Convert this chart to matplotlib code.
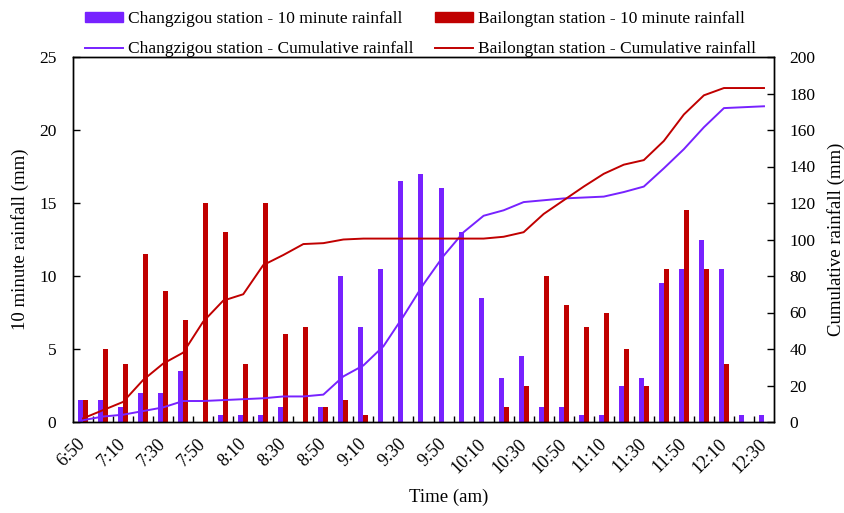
import matplotlib
matplotlib.use("Agg")
import matplotlib.pyplot as plt
from matplotlib.patches import Patch
from matplotlib.lines import Line2D
import numpy as np

plt.rcParams['font.family'] = ['Liberation Serif', 'DejaVu Serif']

times = ["6:50", "7:00", "7:10", "7:20", "7:30", "7:40", "7:50", "8:00", "8:10", "8:20",
         "8:30", "8:40", "8:50", "9:00", "9:10", "9:20", "9:30", "9:40", "9:50", "10:00",
         "10:10", "10:20", "10:30", "10:40", "10:50", "11:00", "11:10", "11:20", "11:30", "11:40",
         "11:50", "12:00", "12:10", "12:20", "12:30"]

changzigou_10min = [1.5, 1.5, 1.0, 2.0, 2.0, 3.5, 0.0, 0.5, 0.5, 0.5,
                    1.0, 0.0, 1.0, 10.0, 6.5, 10.5, 16.5, 17.0, 16.0, 13.0,
                    8.5, 3.0, 4.5, 1.0, 1.0, 0.5, 0.5, 2.5, 3.0, 9.5,
                    10.5, 12.5, 10.5, 0.5, 0.5]
bailongtan_10min = [1.5, 5.0, 4.0, 11.5, 9.0, 7.0, 15.0, 13.0, 4.0, 15.0,
                    6.0, 6.5, 1.0, 1.5, 0.5, 0.0, 0.0, 0.0, 0.0, 0.0,
                    0.0, 1.0, 2.5, 10.0, 8.0, 6.5, 7.5, 5.0, 2.5, 10.5,
                    14.5, 10.5, 4.0, 0.0, 0.0]
changzigou_cum = [1.0, 3.0, 4.0, 6.0, 8.0, 11.5, 11.5, 12.0, 12.5, 13.0,
                  14.0, 14.0, 15.0, 25.0, 31.0, 41.5, 58.0, 75.5, 91.0, 104.0,
                  113.0, 116.0, 120.5, 121.5, 122.5, 123.0, 123.5, 126.0, 129.0, 139.0,
                  149.5, 161.5, 172.0, 172.5, 173.0]
bailongtan_cum = [2.0, 6.5, 11.0, 23.0, 32.0, 38.0, 55.0, 66.5, 70.0, 86.0,
                  91.5, 97.5, 98.0, 100.0, 100.5, 100.5, 100.5, 100.5, 100.5, 100.5,
                  100.5, 101.5, 104.0, 114.0, 121.5, 129.0, 136.0, 141.0, 143.5, 154.0,
                  168.5, 179.0, 183.0, 183.0, 183.0]

purple = "#7722FF"
red = "#C00000"

fig = plt.figure(figsize=(8.45, 5.13), dpi=100)
ax = fig.add_axes([73/845, 1-422/513, (774-73)/845, (422-57)/513])
ax2 = ax.twinx()

x = np.arange(len(times))
w = 0.25
ax.bar(x - w/2, changzigou_10min, width=w, color=purple, zorder=2)
ax.bar(x + w/2, bailongtan_10min, width=w, color=red, zorder=2)
ax2.plot(x, changzigou_cum, color=purple, lw=1.4)
ax2.plot(x, bailongtan_cum, color=red, lw=1.4)

ax.set_xlim(-0.5, len(times) - 0.5)
ax.set_ylim(0, 25)
ax2.set_ylim(0, 200)
ax.set_yticks(np.arange(0, 26, 5))
ax2.set_yticks(np.arange(0, 201, 20))

ax.set_xticks(np.arange(0.5, len(times) - 1, 1.0))
ax.set_xticklabels([])
ax.set_xticks(x[::2], minor=True)
ax.set_xticklabels(times[::2], minor=True, rotation=45, ha='right', va='center',
                   rotation_mode='anchor', fontsize=13)
ax.tick_params(axis='x', which='major', direction='in', length=4, width=1)
ax.tick_params(axis='x', which='minor', length=0, pad=14)
ax.tick_params(axis='y', direction='in', length=5, width=1, labelsize=12.5, pad=12)
ax2.tick_params(axis='y', direction='in', length=5, width=1, labelsize=12.5, pad=11)

for a in (ax, ax2):
    for s in a.spines.values():
        s.set_linewidth(1.0)
        s.set_color('black')

ax.set_ylabel("10 minute rainfall (mm)", fontsize=13.5)
ax.yaxis.set_label_coords(-0.0628, 0.5)
ax2.set_ylabel("Cumulative rainfall (mm)", fontsize=13.5)
ax2.yaxis.set_label_coords(1.0756, 0.5)
fig.text(449/845, 1-497/513, "Time (am)", fontsize=13.5, ha='center', va='center')

handles = [Patch(color=purple), Line2D([], [], color=purple, lw=1.4),
           Patch(color=red), Line2D([], [], color=red, lw=1.4)]
labels = ["Changzigou station - 10 minute rainfall", "Changzigou station - Cumulative rainfall",
          "Bailongtan station - 10 minute rainfall", "Bailongtan station - Cumulative rainfall"]
fig.legend(handles, labels, ncol=2, loc='upper left', bbox_to_anchor=(74/845, 1.0),
           frameon=False, fontsize=12.5, handlelength=2.2, handleheight=0.5,
           handletextpad=0.25, columnspacing=1.25, labelspacing=0.8, borderaxespad=0.25)

fig.savefig("out.png", dpi=100)
